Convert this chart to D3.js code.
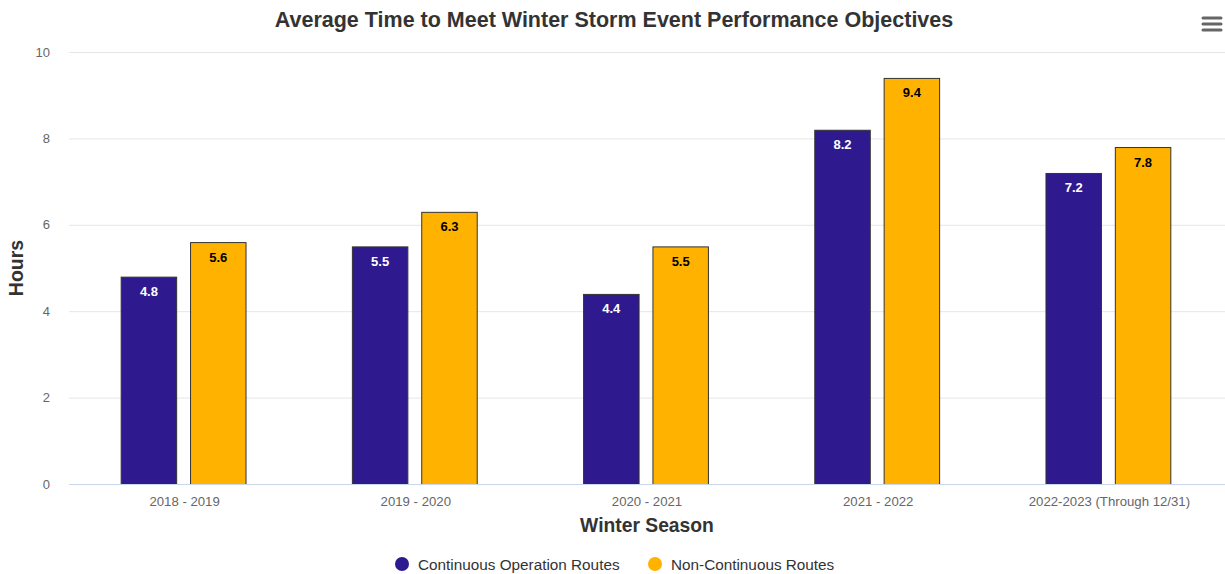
<!DOCTYPE html>
<html><head><meta charset="utf-8">
<script src="https://cdn.jsdelivr.net/npm/d3@7"></script>
<style>body{margin:0;background:#fff}svg{font-family:"Liberation Sans",Arial,sans-serif}</style>
</head><body><svg id="c" width="1225" height="574"></svg>
<script>
const categories = ["2018 - 2019","2019 - 2020","2020 - 2021","2021 - 2022","2022-2023 (Through 12/31)"];
const continuous = [4.8,5.5,4.4,8.2,7.2];
const nonContinuous = [5.6,6.3,5.5,9.4,7.8];
const seriesNames = ["Continuous Operation Routes","Non-Continuous Routes"];
const colors = ["#2e1a8e","#ffb300"];
const yTicks = [0,2,4,6,8,10];

const svg = d3.select("#c");
const m = {l:69,r:1225,t:52,b:484};
const x = d3.scaleBand().domain(categories).range([m.l,m.r]).paddingInner(0).paddingOuter(0);
const y = d3.scaleLinear().domain([0,10]).range([m.b,m.t]);
const series = [continuous, nonContinuous];
const xs = d3.scaleBand().domain([0,1]).range([0, x.bandwidth()*0.6]).paddingInner(0.2).paddingOuter(0.1);

// grid
svg.append("g").selectAll("line").data(yTicks.filter(d=>d>0)).join("line")
  .attr("x1",m.l).attr("x2",m.r).attr("y1",d=>y(d)+0.5).attr("y2",d=>y(d)+0.5)
  .attr("stroke","#e6e6e6");
// y tick labels
svg.append("g").selectAll("text").data(yTicks).join("text")
  .attr("x",50).attr("y",d=>y(d)+4.5).attr("text-anchor","end")
  .attr("font-size",13).attr("fill","#666").text(d=>d);

// bars
series.forEach((s,si)=>{
  const g = svg.append("g");
  g.selectAll("rect").data(s).join("rect")
    .attr("x",(d,i)=>x(categories[i])+x.bandwidth()*0.2+xs(si)-1)
    .attr("y",d=>y(d)+0.5)
    .attr("width",xs.bandwidth())
    .attr("height",d=>y(0)-y(d))
    .attr("fill",colors[si]).attr("stroke","#333").attr("stroke-width",1);
  g.selectAll("text").data(s).join("text")
    .attr("x",(d,i)=>x(categories[i])+x.bandwidth()*0.2+xs(si)+xs.bandwidth()/2-1)
    .attr("y",d=>y(d)+19.5)
    .attr("text-anchor","middle").attr("font-size",13).attr("font-weight","bold")
    .attr("fill",si===0?"#fff":"#000")
    .text(d=>d.toFixed(1));
});

// x axis line
svg.append("line").attr("x1",m.l).attr("x2",m.r).attr("y1",m.b+0.5).attr("y2",m.b+0.5).attr("stroke","#ccd6eb");
// x labels
svg.append("g").selectAll("text").data(categories).join("text")
  .attr("x",d=>x(d)+x.bandwidth()/2).attr("y",506).attr("text-anchor","middle")
  .attr("font-size",13.2).attr("fill","#666").text(d=>d);

// titles
svg.append("text").attr("x",614).attr("y",27).attr("text-anchor","middle")
  .attr("font-size",21.5).attr("font-weight","bold").attr("fill","#333")
  .text("Average Time to Meet Winter Storm Event Performance Objectives");
svg.append("text").attr("transform","translate(23,268) rotate(-90)").attr("text-anchor","middle")
  .attr("font-size",19.5).attr("font-weight","bold").attr("fill","#333").text("Hours");
svg.append("text").attr("x",647).attr("y",532).attr("text-anchor","middle")
  .attr("font-size",19.3).attr("font-weight","bold").attr("fill","#333").text("Winter Season");

// legend
const leg = [{x:402},{x:655}];
seriesNames.forEach((n,i)=>{
  svg.append("circle").attr("cx",leg[i].x).attr("cy",564).attr("r",7).attr("fill",colors[i]);
  svg.append("text").attr("x",leg[i].x+16).attr("y",569.5).attr("font-size",15.3).attr("fill","#333").text(n);
});

// menu icon
[0,1,2].forEach(i=>{
  svg.append("line").attr("x1",1203).attr("x2",1221).attr("y1",18+i*6).attr("y2",18+i*6)
    .attr("stroke","#666").attr("stroke-width",3).attr("stroke-linecap","round");
});
</script></body></html>
